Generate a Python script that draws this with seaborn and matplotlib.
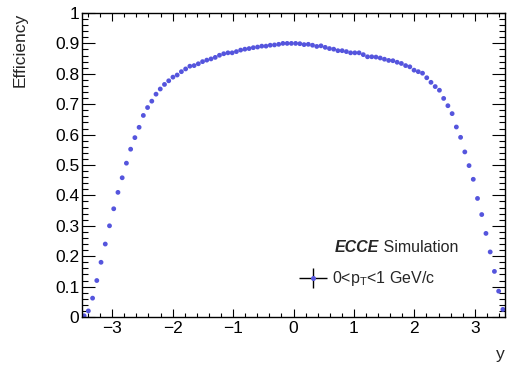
import numpy as np
import pandas as pd
import matplotlib
matplotlib.use("Agg")
import matplotlib.pyplot as plt
from matplotlib.lines import Line2D
from matplotlib.legend_handler import HandlerTuple
from matplotlib.ticker import MultipleLocator, FixedLocator, FixedFormatter
import seaborn as sns

# ---- data ----
y_low, y_high, n_bins = -3.5, 3.5, 100
efficiency = [
    0.004, 0.020, 0.062, 0.120, 0.180, 0.240, 0.300, 0.356, 0.410, 0.458,
    0.506, 0.552, 0.590, 0.624, 0.663, 0.689, 0.710, 0.733, 0.750, 0.765,
    0.777, 0.789, 0.796, 0.807, 0.816, 0.825, 0.827, 0.833, 0.840, 0.845,
    0.849, 0.854, 0.861, 0.866, 0.869, 0.869, 0.873, 0.878, 0.881, 0.883,
    0.886, 0.888, 0.891, 0.891, 0.894, 0.895, 0.897, 0.900, 0.900, 0.900,
    0.900, 0.899, 0.896, 0.897, 0.894, 0.890, 0.892, 0.887, 0.883, 0.881,
    0.876, 0.876, 0.873, 0.869, 0.869, 0.869, 0.863, 0.856, 0.856, 0.855,
    0.852, 0.848, 0.844, 0.843, 0.838, 0.834, 0.827, 0.823, 0.812, 0.807,
    0.802, 0.787, 0.772, 0.758, 0.746, 0.719, 0.695, 0.669, 0.625, 0.591,
    0.543, 0.498, 0.453, 0.390, 0.337, 0.275, 0.214, 0.150, 0.085, 0.025,
]
x_ticks = [-3, -2, -1, 0, 1, 2, 3]
y_ticks = [0, 0.1, 0.2, 0.3, 0.4, 0.5, 0.6, 0.7, 0.8, 0.9, 1.0]
y_tick_labels = ["0", "0.1", "0.2", "0.3", "0.4", "0.5", "0.6", "0.7", "0.8", "0.9", "1"]
legend_label = r"0<$\mathregular{p_{T}}$<1 GeV/c"

edges = np.linspace(y_low, y_high, n_bins + 1)
centers = 0.5 * (edges[:-1] + edges[1:])
df = pd.DataFrame({"y": centers, "eff": efficiency})

# ---- style ----
sns.set_style("white")
plt.rcParams["font.family"] = ["Liberation Sans", "DejaVu Sans"]
plt.rcParams["mathtext.default"] = "regular"

color = "#5555dd"
fs = 12.5
fs_txt = 11.5

fig = plt.figure(figsize=(5.15, 3.70), dpi=100)
ax = fig.add_axes([82 / 515, 1 - 317 / 370, 423 / 515, 304 / 370])

sns.scatterplot(data=df, x="y", y="eff", ax=ax, s=12, color=color,
                edgecolor="none", linewidth=0, legend=False)

ax.set_xlim(y_low, y_high)
ax.set_ylim(0, 1)

ax.xaxis.set_major_locator(FixedLocator(x_ticks))
ax.xaxis.set_minor_locator(MultipleLocator(0.2))
ax.yaxis.set_major_locator(FixedLocator(y_ticks))
ax.yaxis.set_major_formatter(FixedFormatter(y_tick_labels))
ax.yaxis.set_minor_locator(MultipleLocator(0.02))

ax.tick_params(axis="both", which="both", direction="in", colors="black",
               labelsize=fs, width=0.8)
ax.tick_params(axis="x", which="major", length=5.8, top=True, bottom=True, pad=3)
ax.tick_params(axis="x", which="minor", length=2.9, top=True, bottom=True)
ax.tick_params(axis="y", which="major", length=9.2, left=True, right=True, pad=2)
ax.tick_params(axis="y", which="minor", length=4.6, left=True, right=True)

for sp in ax.spines.values():
    sp.set_visible(True)
    sp.set_color("black")
    sp.set_linewidth(1.0)

ax.set_ylabel("Efficiency", fontsize=fs, loc="top")
ax.yaxis.set_label_coords(-0.128, 1.0)
ax.set_xlabel("y", fontsize=fs, loc="right")
ax.xaxis.set_label_coords(1.0, -0.1)

# ECCE Simulation label
t1 = ax.text(335 / 515, 1 - 252 / 370, "ECCE", transform=fig.transFigure,
             fontsize=fs_txt, fontweight="bold", fontstyle="italic",
             ha="left", va="baseline")
ax.annotate(" Simulation", xy=(1, 0), xycoords=t1, fontsize=fs_txt,
            ha="left", va="bottom")

# legend
h_bar = Line2D([], [], marker="_", markersize=19.5, markeredgewidth=1.0,
               color="black", linestyle="none")
v_bar = Line2D([], [], marker="|", markersize=15, markeredgewidth=1.0,
               color="black", linestyle="none")
dot = Line2D([], [], marker="o", markersize=3.6, color=color,
             markeredgewidth=0, linestyle="none")
ax.legend([(h_bar, v_bar, dot)], [legend_label],
          handler_map={tuple: HandlerTuple(ndivide=1)},
          loc="center left", bbox_to_anchor=(299 / 515, 1 - 279 / 370),
          bbox_transform=fig.transFigure, frameon=False, fontsize=fs_txt,
          handlelength=1.7, handletextpad=0.35, borderpad=0, borderaxespad=0)

fig.savefig("out.png", dpi=100)
